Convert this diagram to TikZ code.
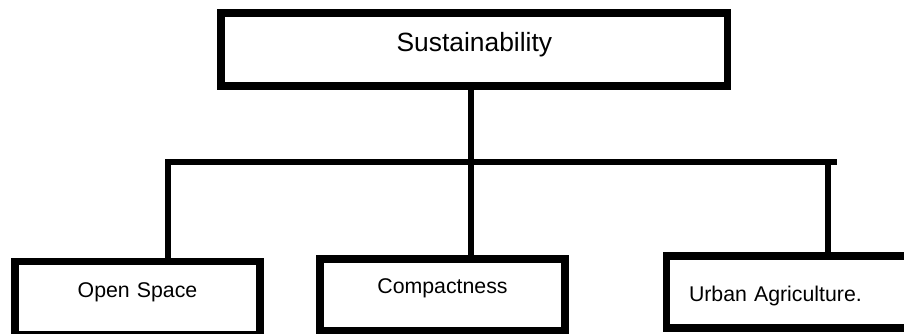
\documentclass[tikz,border=0pt]{standalone}
\usepackage{fontspec}
\setmainfont{Liberation Sans}
\usetikzlibrary{positioning}

\begin{document}
\begin{tikzpicture}[x=1pt,y=-1pt,
        box/.style={draw,line width=7.5pt,inner sep=0pt,outer sep=0pt,anchor=north west,align=center},
        topic/.style={box,font=\fontsize{26.4}{30}\selectfont},
        item/.style={box,text width=245pt,font=\fontsize{21.3}{25}\selectfont},
        link/.style={line width=6pt}]
    \useasboundingbox (0,0) rectangle (904,333);

    \node[topic,text width=506.7pt,text height=38pt,text depth=35pt] (sus) at (221,13) {Sustainability};
    \node[item,text height=35.5pt,text depth=38pt] (open) at (15,261.5) {Open Space};
    \node[item,text height=34pt,text depth=38pt] (comp) at (320,259) {Compactness};
    \node[item,align=left,text width=230pt,inner xsep=22.3pt,text height=45pt,text depth=27pt] (agri) at (666.7,256) {Urban Agriculture.};

    \coordinate (hub) at (471,162);
    \coordinate (barL) at (165,162);
    \coordinate (barR) at (837,162);
    \coordinate (j1) at (168,162);
    \coordinate (j3) at (827.5,162);

    \draw[link] (hub |- sus.south) -- (hub);
    \draw[link] (barL) -- (barR);
    \draw[link] (j1) -- (j1 |- open.north);
    \draw[link] (hub) -- (hub |- comp.north);
    \draw[link] (j3) -- (j3 |- agri.north);
\end{tikzpicture}
\end{document}
